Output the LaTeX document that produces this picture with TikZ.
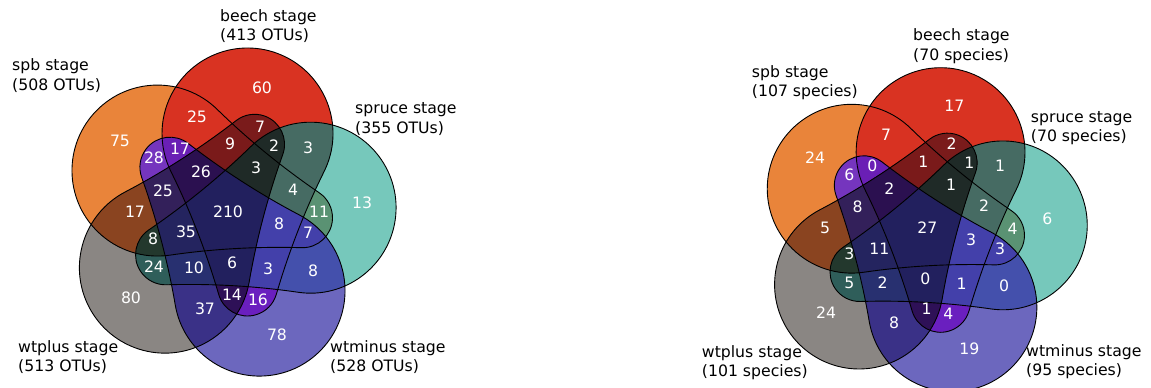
\documentclass[tikz,border=0pt]{standalone}
\usepackage{fontspec}
\setmainfont{DejaVu Sans}
\definecolor{cO}{HTML}{E9843A}
\definecolor{cR}{HTML}{D93322}
\definecolor{cT}{HTML}{76C8BB}
\definecolor{cP}{HTML}{6C67BE}
\definecolor{cG}{HTML}{8A8683}
\definecolor{cOR}{HTML}{D83222}
\definecolor{cRT}{HTML}{466B63}
\definecolor{cTP}{HTML}{4450AC}
\definecolor{cPG}{HTML}{3A3187}
\definecolor{cGO}{HTML}{8A4420}
\definecolor{cOP}{HTML}{7535BE}
\definecolor{cRG}{HTML}{7A1B1B}
\definecolor{cOT}{HTML}{5A9273}
\definecolor{cRP}{HTML}{6A1FBF}
\definecolor{cTG}{HTML}{2F5E5A}
\definecolor{cORP}{HTML}{6A1FB5}
\definecolor{cOPG}{HTML}{33205A}
\definecolor{cOTG}{HTML}{23382D}
\definecolor{cTPG}{HTML}{283070}
\definecolor{cRPG}{HTML}{2E1057}
\definecolor{cRTP}{HTML}{4340AA}
\definecolor{cOTP}{HTML}{4340AA}
\definecolor{cORT}{HTML}{466B63}
\definecolor{cORG}{HTML}{7A1A1A}
\definecolor{cRTG}{HTML}{1F2A27}
\definecolor{cnoT}{HTML}{2B1050}
\definecolor{cnoR}{HTML}{24245F}
\definecolor{cnoO}{HTML}{22205E}
\definecolor{cnoG}{HTML}{4340AA}
\definecolor{cnoP}{HTML}{1F2A27}
\definecolor{cAll}{HTML}{22205E}
\newcommand\eggshape{(48.29,-80.44) .. controls (60.67,-38.22) and (76.61,3.13) .. (96.13,42.56) arc[start angle=-26.34, end angle=206.34, radius=85.5] .. controls (-37.61,3.13) and (-21.67,-38.22) .. (-9.29,-80.44) arc[start angle=196.34, end angle=343.66, radius=30] -- cycle}
\newcommand\Ck[1]{\clip[rotate=#1]\eggshape;}
\newcommand\Reg[2]{\begin{scope}#1\fill[#2](-300,-300) rectangle (300,300);\end{scope}}
\newcommand\vennbody{%
\Reg{\Ck{72}}{cO}%
\Reg{\Ck{0}}{cR}%
\Reg{\Ck{288}}{cT}%
\Reg{\Ck{216}}{cP}%
\Reg{\Ck{144}}{cG}%
\Reg{\Ck{72}\Ck{0}}{cOR}%
\Reg{\Ck{0}\Ck{288}}{cRT}%
\Reg{\Ck{288}\Ck{216}}{cTP}%
\Reg{\Ck{216}\Ck{144}}{cPG}%
\Reg{\Ck{144}\Ck{72}}{cGO}%
\Reg{\Ck{72}\Ck{216}}{cOP}%
\Reg{\Ck{0}\Ck{144}}{cRG}%
\Reg{\Ck{72}\Ck{288}}{cOT}%
\Reg{\Ck{0}\Ck{216}}{cRP}%
\Reg{\Ck{288}\Ck{144}}{cTG}%
\Reg{\Ck{72}\Ck{0}\Ck{216}}{cORP}%
\Reg{\Ck{72}\Ck{216}\Ck{144}}{cOPG}%
\Reg{\Ck{72}\Ck{288}\Ck{144}}{cOTG}%
\Reg{\Ck{288}\Ck{216}\Ck{144}}{cTPG}%
\Reg{\Ck{0}\Ck{216}\Ck{144}}{cRPG}%
\Reg{\Ck{0}\Ck{288}\Ck{216}}{cRTP}%
\Reg{\Ck{72}\Ck{288}\Ck{216}}{cOTP}%
\Reg{\Ck{72}\Ck{0}\Ck{288}}{cORT}%
\Reg{\Ck{72}\Ck{0}\Ck{144}}{cORG}%
\Reg{\Ck{0}\Ck{288}\Ck{144}}{cRTG}%
\Reg{\Ck{72}\Ck{0}\Ck{216}\Ck{144}}{cnoT}%
\Reg{\Ck{72}\Ck{288}\Ck{216}\Ck{144}}{cnoR}%
\Reg{\Ck{0}\Ck{288}\Ck{216}\Ck{144}}{cnoO}%
\Reg{\Ck{72}\Ck{0}\Ck{288}\Ck{216}}{cnoG}%
\Reg{\Ck{72}\Ck{0}\Ck{288}\Ck{144}}{cnoP}%
\Reg{\Ck{72}\Ck{0}\Ck{288}\Ck{216}\Ck{144}}{cAll}%
\foreach \a in {0,72,144,216,288}{\draw[outl,rotate=\a]\eggshape;}%
}
\tikzset{
  outl/.style={draw=black, line width=0.9pt},
  num/.style={text=white, inner sep=0pt, font=\fontsize{15.7}{19}\selectfont},
  lab/.style={text=black, inner sep=0pt, anchor=base west, font=\fontsize{15.7}{19}\selectfont}
}
\begin{document}
\begin{tikzpicture}[x=1pt,y=1pt]
\fill[white] (0,0) rectangle (1151,388);
\useasboundingbox (0,0) rectangle (1151,388);
% ---------- left diagram ----------
\begin{scope}[shift={(228,174)}]
\vennbody
\node[num] (La) at (34,126) {60};
\node[num] (Lb) at (-31,97) {25};
\node[num] (Lc) at (32,87) {7};
\node[num] (Ld) at (-108,73) {75};
\node[num] (Le) at (-74,56) {28};
\node[num] (Lf) at (-48,65) {17};
\node[num] (Lg) at (2,70) {9};
\node[num] (Lh) at (46,68) {2};
\node[num] (Li) at (80,66) {3};
\node[num] (Lj) at (-27,42) {26};
\node[num] (Lk) at (28,46) {3};
\node[num] (Ll) at (-65,23) {25};
\node[num] (Lm) at (-93,2) {17};
\node[num] (Ln) at (0,2) {210};
\node[num] (Lo) at (51,-10) {8};
\node[num] (Lp) at (65,24) {4};
\node[num] (Lq) at (91,2) {11};
\node[num] (Lr) at (134,11) {13};
\node[num] (Ls) at (-75,-25) {8};
\node[num] (Lt) at (-42,-18) {35};
\node[num] (Lu) at (80,-19) {7};
\node[num] (Lv) at (-74,-53) {24};
\node[num] (Lw) at (-34,-54) {10};
\node[num] (Lx) at (4,-49) {6};
\node[num] (Ly) at (40,-55) {3};
\node[num] (Lz) at (85,-57) {8};
\node[num] (LA) at (-97,-84) {80};
\node[num] (LB) at (-23,-95) {37};
\node[num] (LC) at (4,-81) {14};
\node[num] (LD) at (30,-86) {16};
\node[num] (LE) at (49,-121) {78};
\end{scope}
\node[lab] (Ls1) at (12,317) {spb stage};
\node[lab] (Ls2) at (12,297.5) {(508 OTUs)};
\node[lab] (Lb1) at (220,366.5) {beech stage};
\node[lab] (Lb2) at (220,347) {(413 OTUs)};
\node[lab] (Lr1) at (355,274) {spruce stage};
\node[lab] (Lr2) at (355,254.5) {(355 OTUs)};
\node[lab] (Lp1) at (18,35.5) {wtplus stage};
\node[lab] (Lp2) at (18,16) {(513 OTUs)};
\node[lab] (Lm1) at (330,35.5) {wtminus stage};
\node[lab] (Lm2) at (330,16) {(528 OTUs)};
% ---------- right diagram ----------
\begin{scope}[shift={(921.3,156.4)}, scale=0.9873]
\vennbody
\end{scope}
\node[num] (Ra) at (954.3,282) {17};
\node[num] (Rb) at (886,253) {7};
\node[num] (Rc) at (951.7,244) {2};
\node[num] (Rd) at (815,230.7) {24};
\node[num] (Re) at (849.3,213.7) {6};
\node[num] (Rf) at (872.3,222) {0};
\node[num] (Rg) at (923.3,226.3) {1};
\node[num] (Rh) at (969.3,225.3) {1};
\node[num] (Ri) at (1000,222.3) {1};
\node[num] (Rj) at (889.3,199) {2};
\node[num] (Rk) at (951,203) {1};
\node[num] (Rl) at (857.7,181.3) {8};
\node[num] (Rm) at (825,159.7) {5};
\node[num] (Rn) at (927.3,160.3) {27};
\node[num] (Ro) at (971,148.7) {3};
\node[num] (Rp) at (984,182) {2};
\node[num] (Rq) at (1012.7,159) {4};
\node[num] (Rr) at (1047.3,169.7) {6};
\node[num] (Rs) at (849.3,134.7) {3};
\node[num] (Rt) at (879.3,139.7) {11};
\node[num] (Ru) at (1000,139.7) {3};
\node[num] (Rv) at (849.3,105.3) {5};
\node[num] (Rw) at (882.7,105.3) {2};
\node[num] (Rx) at (925.3,109.7) {0};
\node[num] (Ry) at (961.7,104.7) {1};
\node[num] (Rz) at (1004,102.3) {0};
\node[num] (RA) at (826,75.7) {24};
\node[num] (RB) at (894,65.3) {8};
\node[num] (RC) at (926.7,79.7) {1};
\node[num] (RD) at (948.3,74.7) {4};
\node[num] (RE) at (969.3,39.7) {19};
\node[lab] (Rs1) at (751.7,310.5) {spb stage};
\node[lab] (Rs2) at (751.7,291) {(107 species)};
\node[lab] (Rb1) at (913,347) {beech stage};
\node[lab] (Rb2) at (913,327.5) {(70 species)};
\node[lab] (Rr1) at (1030.7,265.5) {spruce stage};
\node[lab] (Rr2) at (1030.7,246) {(70 species)};
\node[lab] (Rp1) at (701.7,30.5) {wtplus stage};
\node[lab] (Rp2) at (701.7,11) {(101 species)};
\node[lab] (Rm1) at (1026,31.5) {wtminus stage};
\node[lab] (Rm2) at (1026,12) {(95 species)};
\end{tikzpicture}
\end{document}
